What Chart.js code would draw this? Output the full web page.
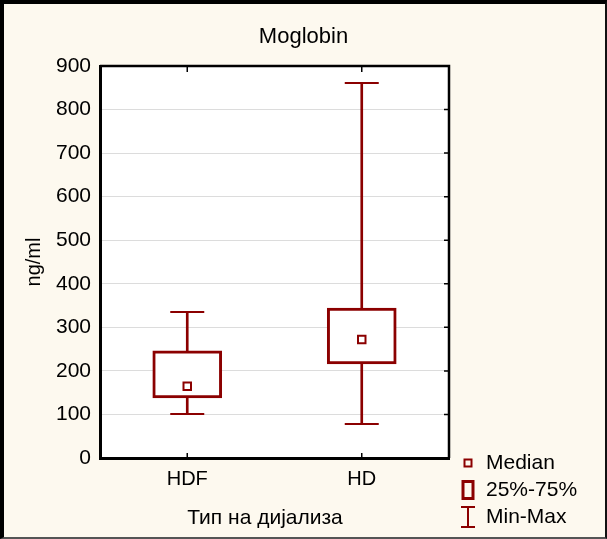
<!DOCTYPE html>
<html>
<head>
<meta charset="utf-8">
<script src="https://cdn.jsdelivr.net/npm/chart.js@4/dist/chart.umd.min.js"></script>
<style>
  body { margin: 0; }
  #wrap { position: relative; width: 607px; height: 539px; }
  #chart { display: block; background: #fdf9ef; }
  #frame {
    position: absolute; left: 0; top: 0; width: 607px; height: 539px;
    box-sizing: border-box; pointer-events: none;
    border-style: solid; border-width: 4px 2px 2px 4px;
    border-color: #000 #111 #555 #000;
  }
</style>
</head>
<body>
<div id="wrap">
  <canvas id="chart" width="607" height="539"></canvas>
  <div id="frame"></div>
</div>
<script>
const categories = ['HDF', 'HD'];
const minVals = [101, 78];
const q1Vals = [138, 216];
const medianVals = [165, 272];
const q3Vals = [246, 344];
const maxVals = [335, 861];
const legendLabels = ['Median', '25%-75%', 'Min-Max'];
const xTitle = 'Тип на дијализа';

const RED = '#8b0000';
const FONT = '"Liberation Sans", Arial, sans-serif';
Chart.defaults.font.family = FONT;
Chart.defaults.color = '#000';

// background, top/right frame, inner tick marks, x title and the legend
const boxFrame = {
  id: 'boxFrame',
  beforeDraw(chart) {
    const { ctx, chartArea: a } = chart;
    ctx.save();
    ctx.fillStyle = '#fdf9ef';
    ctx.fillRect(0, 0, chart.width, chart.height);
    ctx.fillStyle = '#fff';
    ctx.fillRect(a.left, a.top, a.right - a.left, a.bottom - a.top);
    ctx.restore();
  },
  afterDatasetsDraw(chart) {
    const { ctx, chartArea: a, scales: { x, y } } = chart;
    ctx.save();
    ctx.strokeStyle = '#000';
    ctx.lineWidth = 2.5;
    ctx.beginPath();
    ctx.moveTo(a.left, a.top);
    ctx.lineTo(a.right, a.top);
    ctx.lineTo(a.right, a.bottom);
    ctx.stroke();

    ctx.lineWidth = 1.5;
    ctx.beginPath();
    x.ticks.forEach((t, i) => {
      const px = x.getPixelForTick(i);
      ctx.moveTo(px, a.top);
      ctx.lineTo(px, a.top + 6);
      ctx.moveTo(px, a.bottom);
      ctx.lineTo(px, a.bottom - 5);
    });
    y.ticks.forEach((t, i) => {
      const py = y.getPixelForTick(i);
      ctx.moveTo(a.right, py);
      ctx.lineTo(a.right - 5, py);
    });
    ctx.stroke();

    ctx.fillStyle = '#000';
    ctx.font = '21px ' + FONT;
    ctx.textBaseline = 'middle';
    ctx.textAlign = 'center';
    ctx.fillText(xTitle, 265, 518);

    // legend
    const lx = 468, tx = 486;
    const rows = [463, 490, 517];
    ctx.strokeStyle = RED;
    ctx.lineWidth = 2;
    ctx.strokeRect(lx - 3.5, rows[0] - 3.5, 7, 7);
    ctx.lineWidth = 3;
    ctx.strokeRect(lx - 5, rows[1] - 8.5, 10, 17);
    ctx.lineWidth = 2;
    ctx.beginPath();
    ctx.moveTo(lx, rows[2] - 10); ctx.lineTo(lx, rows[2] + 10);
    ctx.moveTo(lx - 7, rows[2] - 10); ctx.lineTo(lx + 7, rows[2] - 10);
    ctx.moveTo(lx - 7, rows[2] + 10); ctx.lineTo(lx + 7, rows[2] + 10);
    ctx.stroke();

    ctx.textAlign = 'left';
    legendLabels.forEach((lab, i) => ctx.fillText(lab, tx, rows[i]));
    ctx.restore();
  }
};

new Chart(document.getElementById('chart'), {
  type: 'bar',
  data: {
    labels: categories,
    datasets: [
      {
        type: 'line',
        data: medianVals,
        showLine: false,
        pointStyle: 'rect',
        pointRadius: 5.3,
        pointBorderWidth: 2,
        pointBackgroundColor: '#fff',
        pointBorderColor: RED,
        order: 0
      },
      {
        data: categories.map((c, i) => [q1Vals[i], q3Vals[i]]),
        backgroundColor: '#fff',
        borderColor: RED,
        borderWidth: 3,
        borderSkipped: false,
        barThickness: 69,
        grouped: false,
        order: 1
      },
      {
        type: 'line',
        data: maxVals,
        showLine: false,
        pointStyle: 'line',
        pointRadius: 17,
        pointBorderWidth: 2,
        pointBorderColor: RED,
        order: 2
      },
      {
        type: 'line',
        data: minVals,
        showLine: false,
        pointStyle: 'line',
        pointRadius: 17,
        pointBorderWidth: 2,
        pointBorderColor: RED,
        order: 2
      },
      {
        data: categories.map((c, i) => [minVals[i], maxVals[i]]),
        backgroundColor: RED,
        borderWidth: 0,
        barThickness: 2,
        grouped: false,
        order: 3
      }
    ]
  },
  options: {
    responsive: false,
    animation: false,
    layout: { padding: 0 },
    plugins: {
      legend: { display: false },
      tooltip: { enabled: false },
      title: {
        display: true,
        text: 'Moglobin',
        color: '#000',
        font: { size: 22, weight: 'normal' },
        padding: { top: 24, bottom: 15.6 }
      }
    },
    scales: {
      x: {
        offset: true,
        ticks: { font: { size: 20 }, padding: 9 },
        grid: { display: false, drawTicks: false },
        border: { color: '#000', width: 3 },
        afterFit(scale) { scale.height = 81; }
      },
      y: {
        min: 0,
        max: 900,
        ticks: { stepSize: 100, font: { size: 21 }, padding: 9 },
        grid: { color: '#dcdcdc', drawTicks: false },
        border: { color: '#000', width: 3 },
        title: { display: true, text: 'ng/ml', font: { size: 20 }, padding: { top: 22, bottom: 0 } },
        afterFit(scale) { scale.width = 100; }
      },
      yRight: {
        position: 'right',
        min: 0,
        max: 900,
        ticks: { display: false },
        grid: { display: false, drawTicks: false },
        border: { display: false },
        afterFit(scale) { scale.width = 158; }
      }
    }
  },
  plugins: [boxFrame]
});
</script>
</body>
</html>
